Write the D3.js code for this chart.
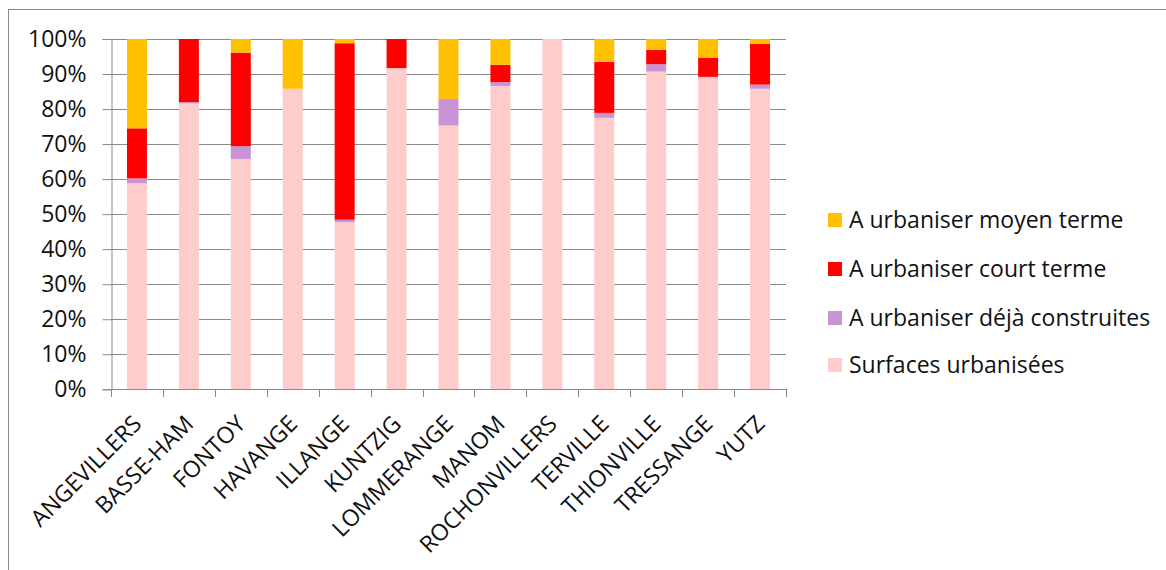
<!DOCTYPE html>
<html>
<head>
<meta charset="utf-8">
<script src="https://cdn.jsdelivr.net/npm/d3@7"></script>
<style>
  html, body { margin: 0; padding: 0; background: #fff; }
  svg { display: block; }
  text { font-family: "Open Sans", sans-serif; fill: #111; }
</style>
</head>
<body>
<svg id="chart" width="1166" height="570"></svg>
<script>
// Communes
const categories = ["ANGEVILLERS", "BASSE-HAM", "FONTOY", "HAVANGE", "ILLANGE", "KUNTZIG",
  "LOMMERANGE", "MANOM", "ROCHONVILLERS", "TERVILLE", "THIONVILLE", "TRESSANGE", "YUTZ"];

// Shares of each land-use type, in percent (stacked bottom to top)
const surfacesUrbanisees   = [58.8, 81.6, 65.7, 85.8, 47.7, 91.7, 75.3, 86.6, 100, 77.5, 90.7, 89.0, 85.8];
const dejaConstruites      = [ 1.4,  0.4,  3.7,  0.0,  0.7,  0.0,  7.6,  1.1,   0,  1.4,  2.1,  0.2,  1.2];
const courtTerme           = [14.3, 18.0, 26.7,  0.0, 50.4,  8.3,  0.0,  4.9,   0, 14.6,  4.1,  5.5, 11.7];
const moyenTerme           = [25.5,  0.0,  3.9, 14.2,  1.2,  0.0, 17.1,  7.4,   0,  6.5,  3.1,  5.3,  1.3];

const seriesNames = ["Surfaces urbanisées", "A urbaniser déjà construites",
  "A urbaniser court terme", "A urbaniser moyen terme"];
const seriesValues = [surfacesUrbanisees, dejaConstruites, courtTerme, moyenTerme];
const seriesColors = ["#FFCCCC", "#C993D4", "#FF0000", "#FFC000"];

const yTicks = [0, 10, 20, 30, 40, 50, 60, 70, 80, 90, 100];

const svg = d3.select("#chart");
const fontSize = "23px";

// Chart frame
svg.append("rect")
  .attr("x", 8.5).attr("y", 9.5)
  .attr("width", 1200).attr("height", 600)
  .attr("fill", "none").attr("stroke", "#8c8c8c").attr("stroke-width", 1);

const plot = { left: 111, right: 786, top: 39, bottom: 389.3 };

const x = d3.scaleBand()
  .domain(categories)
  .range([plot.left, plot.right])
  .paddingInner(0.615)
  .paddingOuter(0.3075);

const y = d3.scaleLinear().domain([0, 100]).range([plot.bottom, plot.top]);

// Horizontal gridlines
svg.append("g").selectAll("line")
  .data(yTicks)
  .join("line")
  .attr("x1", plot.left).attr("x2", plot.right)
  .attr("y1", d => Math.round(y(d)) + 0.5).attr("y2", d => Math.round(y(d)) + 0.5)
  .attr("stroke", "#8a8a8a").attr("stroke-width", 1);

// Stacked bars
const rows = categories.map((c, i) => {
  const r = { cat: c };
  seriesNames.forEach((s, k) => { r[s] = seriesValues[k][i]; });
  return r;
});
const stack = d3.stack().keys(seriesNames)(rows);

svg.append("g").selectAll("g")
  .data(stack)
  .join("g")
  .attr("fill", (d, k) => seriesColors[k])
  .selectAll("rect")
  .data(d => d.filter(p => p[1] - p[0] > 0))
  .join("rect")
  .attr("x", d => x(d.data.cat))
  .attr("width", x.bandwidth())
  .attr("y", d => y(d[1]))
  .attr("height", d => y(d[0]) - y(d[1]));

// Y axis
const yAxis = svg.append("g")
  .attr("transform", `translate(${plot.left + 0.5},0)`)
  .call(d3.axisLeft(y).tickValues(yTicks).tickSize(9).tickPadding(16)
    .tickFormat(d => d + "%"));
yAxis.select(".domain").attr("stroke", "#8a8a8a");
yAxis.selectAll(".tick line").attr("stroke", "#8a8a8a");
yAxis.selectAll(".tick text")
  .style("font-family", "'Open Sans', sans-serif")
  .style("font-size", fontSize)
  .attr("fill", "#111");

// X axis line with ticks at category boundaries
const gx = svg.append("g");
gx.append("line")
  .attr("x1", plot.left).attr("x2", plot.right)
  .attr("y1", Math.round(plot.bottom) + 0.5).attr("y2", Math.round(plot.bottom) + 0.5)
  .attr("stroke", "#8a8a8a");
gx.selectAll("line.tk")
  .data(d3.range(categories.length + 1))
  .join("line")
  .attr("class", "tk")
  .attr("x1", i => Math.round(plot.left + i * x.step()) + 0.5)
  .attr("x2", i => Math.round(plot.left + i * x.step()) + 0.5)
  .attr("y1", Math.round(plot.bottom))
  .attr("y2", Math.round(plot.bottom) + 8)
  .attr("stroke", "#8a8a8a");

// Rotated category labels
gx.selectAll("text")
  .data(categories)
  .join("text")
  .attr("transform", d => `translate(${x(d) + x.bandwidth() / 2 + 6},${plot.bottom + 36}) rotate(-45)`)
  .attr("text-anchor", "end")
  .style("font-size", fontSize)
  .text(d => d);

// Legend (top series first)
const legendItems = [3, 2, 1, 0];
const legendY = [220, 269, 318, 365];
const lg = svg.append("g");
legendItems.forEach((k, j) => {
  lg.append("rect")
    .attr("x", 828).attr("y", legendY[j] - 7)
    .attr("width", 14).attr("height", 14)
    .attr("fill", seriesColors[k]);
  lg.append("text")
    .attr("x", 849).attr("y", legendY[j])
    .attr("dy", "0.35em")
    .style("font-size", fontSize)
    .text(seriesNames[k]);
});
</script>
</body>
</html>
